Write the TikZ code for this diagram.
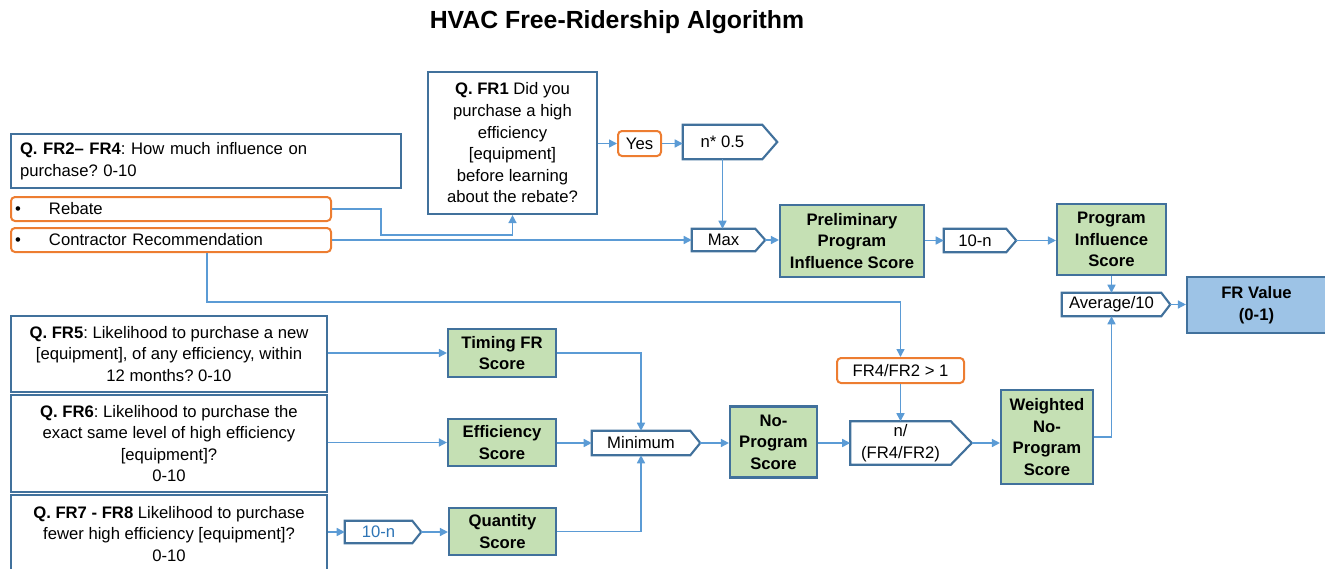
\documentclass[tikz,border=0pt]{standalone}
\usepackage{fontspec}
\setmainfont{Liberation Sans}
\usetikzlibrary{arrows.meta,calc}
\definecolor{boxblue}{HTML}{41719C}
\definecolor{lineblue}{HTML}{5B9BD5}
\definecolor{choiceorange}{HTML}{ED7D31}
\definecolor{scoregreen}{HTML}{C5E0B4}
\definecolor{resultblue}{HTML}{9DC3E6}
\definecolor{calcblue}{HTML}{2E75B6}
\frenchspacing
\begin{document}
\begin{tikzpicture}[x=0.75pt,y=-0.75pt,
  font=\fontsize{12.5}{16.2}\selectfont,
  sz/.style 2 args={minimum width=#1*0.75pt, minimum height=#2*0.75pt},
  qbox/.style={draw=boxblue, line width=1.6pt, fill=white, align=center, inner sep=0pt},
  score/.style={qbox, fill=scoregreen, font=\fontsize{12.5}{16.2}\selectfont\bfseries},
  choice/.style={draw=choiceorange, line width=1.5pt, rounded corners=3pt, fill=white, inner sep=0pt},
  tagline/.style={draw=boxblue, line width=1.6pt, line join=miter},
  tag/.style={inner sep=0pt, align=center,
    append after command={\pgfextra{\draw[tagline] (\tikzlastnode.north west) -- (\tikzlastnode.north east)
      -- ([xshift=#1]\tikzlastnode.east) -- (\tikzlastnode.south east) -- (\tikzlastnode.south west) -- cycle;}}},
  conn/.style={draw=lineblue, line width=1.1pt, -{Triangle[length=6pt,width=6pt]}}]

\useasboundingbox (0,0) rectangle (1325,568);

% title
\node[font=\fontsize{18.6}{22}\selectfont\bfseries] (title) at (617,22) {HVAC Free-Ridership Algorithm};

% program influence questions
\node[qbox, sz={169}{142}] (fr1) at (512.5,143)
  {\textbf{Q. FR1} Did you\\purchase a high\\efficiency\\{[equipment]}\\before learning\\about the rebate?};
\node[qbox, sz={390}{54}, align=left, inner xsep=6.75pt, text width=279pt] (fr24) at (206,161)
  {\textbf{Q. FR2– FR4}: How much influence on\\purchase? 0-10};
\node[choice, sz={320}{24}, align=left, inner xsep=3pt, text width=234pt] (rebate) at (171,209)
  {\makebox[25.5pt][l]{•}Rebate};
\node[choice, sz={320}{24}, align=left, inner xsep=3pt, text width=234pt] (contractor) at (171,240)
  {\makebox[25.5pt][l]{•}Contractor Recommendation};

\node[choice, sz={43}{25}] (yes) at (639.5,143.5) {Yes};
\node[tag=11.25pt, sz={79}{34}] (half) at (722.5,142) {n* 0.5};
\node[tag=7.5pt, sz={63}{22}] (max) at (723.5,240) {Max};
\node[score, sz={144}{72}] (prelim) at (852,241) {Preliminary\\Program\\Influence Score};
\node[tag=7.5pt, sz={62}{23}] (tenA) at (975,240.5) {10-n};
\node[score, sz={109}{71}] (pis) at (1111.5,239.5) {Program\\Influence\\Score};
\node[tag=6.75pt, sz={99}{23}] (avg) at (1111.5,304.5) {Average/10};
\node[qbox, fill=resultblue, font=\fontsize{12.5}{16.2}\selectfont\bfseries, sz={139}{56}] (frv) at (1256.5,305) {FR Value\\(0-1)};

% no-program questions
\node[qbox, sz={316}{76}] (fr5) at (169,354)
  {\textbf{Q. FR5}: Likelihood to purchase a new\\{[equipment]}, of any efficiency, within\\12 months? 0-10};
\node[qbox, sz={316}{97}] (fr6) at (169,443.5)
  {\textbf{Q. FR6}: Likelihood to purchase the\\exact same level of high efficiency\\{[equipment]}?\\0-10};
\node[qbox, sz={316}{78}] (fr7) at (169,534)
  {\textbf{Q. FR7 - FR8} Likelihood to purchase\\fewer high efficiency [equipment]?\\0-10};

\node[score, sz={108}{48}] (timing) at (502,353) {Timing FR\\Score};
\node[score, sz={108}{47}] (eff) at (502,442.5) {Efficiency\\Score};
\node[tag=6.75pt, sz={67}{22}, text=calcblue] (tenB) at (378.5,532) {10-n};
\node[score, sz={107}{47}] (qty) at (502.5,531.5) {Quantity\\Score};
\node[tag=7.5pt, sz={98}{24}] (minimum) at (641,443) {Minimum};
\node[score, sz={87}{71}] (nop) at (773.5,442) {No-\\Program\\Score};
\node[choice, sz={127}{25}] (cond) at (900.5,370.5) {FR4/FR2 > 1};
\node[tag=15.75pt, sz={100}{43}] (ratio) at (900.5,443) {n/\\(FR4/FR2)};
\node[score, sz={92}{94}] (wnp) at (1047,437) {Weighted\\No-\\Program\\Score};

% connectors: program influence
\draw[conn] (fr1.east |- yes.west) -- (yes.west);
\draw[conn] (yes.east) -- (yes.east -| half.west);
\draw[conn] (half.south) -- (half.south |- max.north);
\draw[conn] (rebate.east) -- ++(49,0) |- ($(fr1.south)+(0,20)$) -- (fr1.south);
\draw[conn] (contractor.east) -- (max.west);
\draw[conn] ([xshift=7.5pt]max.east) -- (prelim.west |- max.east);
\draw[conn] (prelim.east |- tenA.west) -- (tenA.west);
\draw[conn] ([xshift=7.5pt]tenA.east) -- (pis.west |- tenA.east);
\draw[conn] (pis.south) -- (avg.north);
\draw[conn] ([xshift=6.75pt]avg.east) -- (frv.west |- avg.east);
\draw[conn] ($(contractor.south)+(36,0)$) |- ($(cond.north)+(0,-55)$) -- (cond.north);

% connectors: no-program
\draw[conn] (fr5.east |- timing.west) -- (timing.west);
\draw[conn] (fr6.east |- eff.west) -- (eff.west);
\draw[conn] (fr7.east |- tenB.west) -- (tenB.west);
\draw[conn] ([xshift=6.75pt]tenB.east) -- (qty.west |- tenB.east);
\draw[conn] (timing.east) -| (minimum.north);
\draw[conn] (eff.east |- minimum.west) -- (minimum.west);
\draw[conn] (qty.east) -| (minimum.south);
\draw[conn] ([xshift=7.5pt]minimum.east) -- (nop.west |- minimum.east);
\draw[conn] (nop.east |- ratio.west) -- (ratio.west);
\draw[conn] (cond.south) -- (ratio.north);
\draw[conn] ([xshift=15.75pt]ratio.east) -- (wnp.west |- ratio.east);
\draw[conn] (wnp.east) -| (avg.south);
\end{tikzpicture}
\end{document}
